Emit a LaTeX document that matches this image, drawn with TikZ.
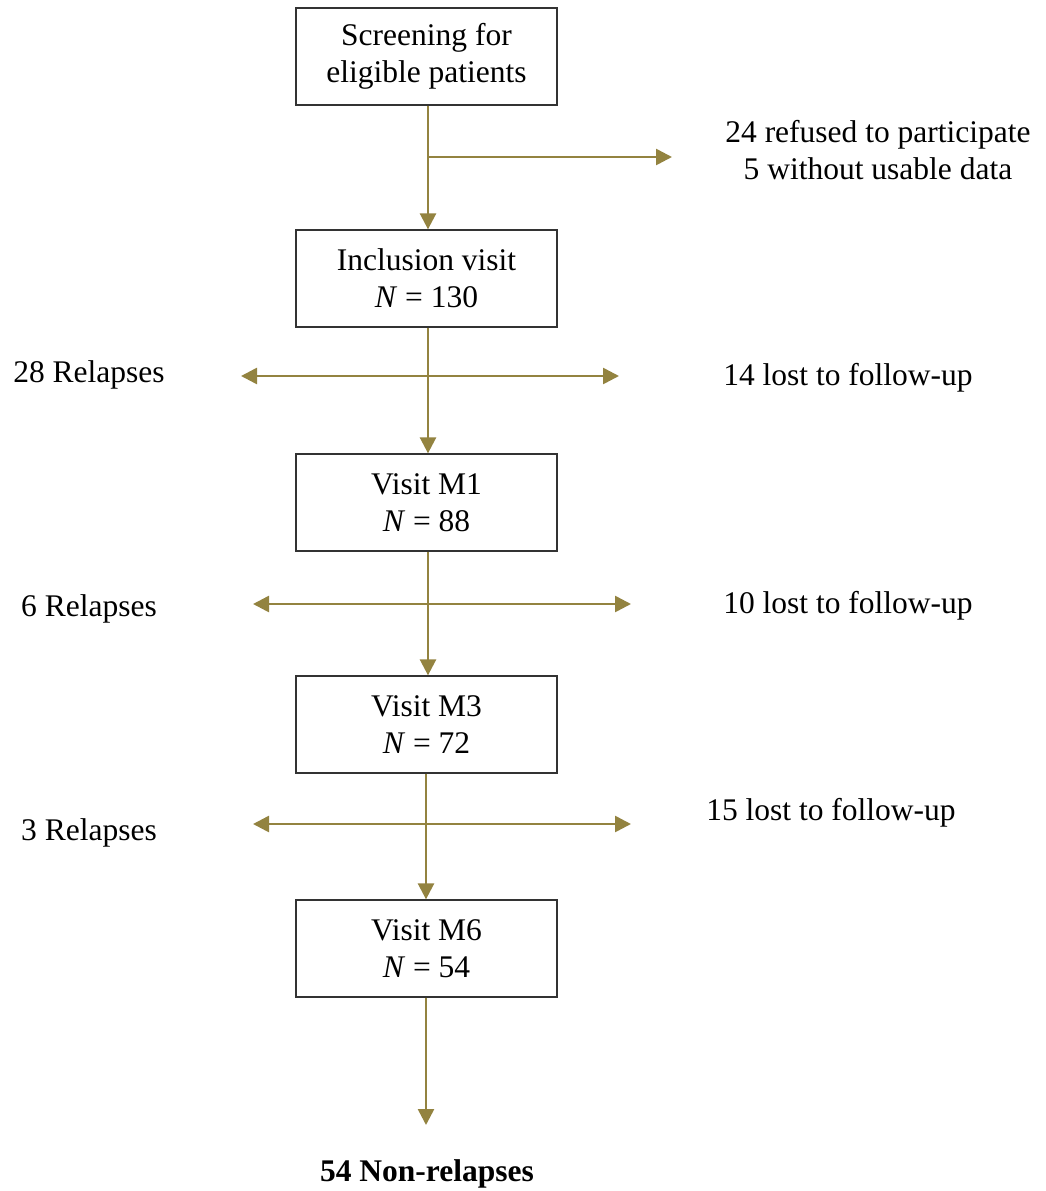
\documentclass[tikz,border=0pt]{standalone}
\usepackage{fontspec}
\setmainfont{Liberation Serif}
\usetikzlibrary{arrows.meta}
\definecolor{gold}{HTML}{938340}
\begin{document}
\begin{tikzpicture}[x=1pt,y=-1pt,
  box/.style={draw=black!80,line width=1.3pt,minimum width=261pt,minimum height=97pt,inner sep=0pt,align=center,font=\fontsize{31.5}{37}\selectfont},
  lbl/.style={align=center,font=\fontsize{31.5}{37}\selectfont,inner sep=0pt},
  conn/.style={draw=gold,line width=2.6pt,-{Triangle[width=16pt,length=16pt]}},
  both/.style={draw=gold,line width=2.6pt,{Triangle[width=16pt,length=16pt]}-{Triangle[width=16pt,length=16pt]}}]
\useasboundingbox (0,0) rectangle (1046,1191);
\node[box] (b1) at (426.5,56.5) {Screening for\\eligible patients};
\node[box] (b2) at (426.5,278.5) {Inclusion visit\\\textit{N} = 130};
\node[box] (b3) at (426.5,502.5) {Visit M1\\\textit{N} = 88};
\node[box] (b4) at (426.5,724.5) {Visit M3\\\textit{N} = 72};
\node[box] (b5) at (426.5,948.5) {Visit M6\\\textit{N} = 54};
% row 1
\draw[conn] (b1.south -| 428,0) -- (b2.north -| 428,0);
\coordinate (j1) at (428,157);
\coordinate (e1) at (672,157);
\draw[conn] (j1) -- (e1);
\node[lbl] (t1) at (878,150) {24 refused to participate\\5 without usable data};
% row 2
\draw[conn] (b2.south -| 428,0) -- (b3.north -| 428,0);
\coordinate (l2) at (241,376);
\coordinate (r2) at (619,376);
\draw[both] (l2) -- (r2);
\node[lbl] (rl2) at (89,375) {28 Relapses};
\node[lbl] (lf2) at (848,378) {14 lost to follow-up};
% row 3
\draw[conn] (b3.south -| 428,0) -- (b4.north -| 428,0);
\coordinate (l3) at (253,604);
\coordinate (r3) at (631,604);
\draw[both] (l3) -- (r3);
\node[lbl] (rl3) at (89,609) {6 Relapses};
\node[lbl] (lf3) at (848,606) {10 lost to follow-up};
% row 4
\draw[conn] (b4.south -| 426,0) -- (b5.north -| 426,0);
\coordinate (l4) at (253,824);
\coordinate (r4) at (631,824);
\draw[both] (l4) -- (r4);
\node[lbl] (rl4) at (89,833) {3 Relapses};
\node[lbl] (lf4) at (831,813) {15 lost to follow-up};
% final
\node[lbl,font=\fontsize{31.5}{37}\selectfont\bfseries] (fin) at (427,1174) {54 Non-relapses};
\coordinate (e5) at (426,1125);
\draw[conn] (b5.south -| 426,0) -- (e5);
\end{tikzpicture}
\end{document}
